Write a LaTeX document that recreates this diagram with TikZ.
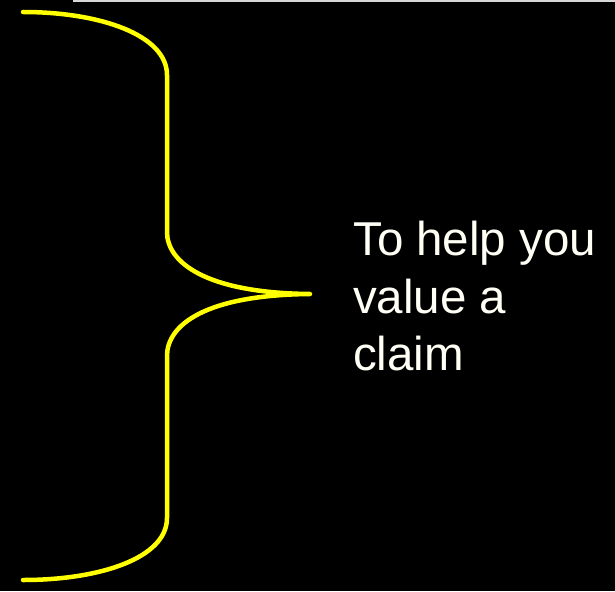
\documentclass[tikz,border=0pt]{standalone}
\usepackage{fontspec}
\setmainfont{Liberation Sans}
\definecolor{braceyellow}{RGB}{255,255,0}
\definecolor{textwhite}{RGB}{255,255,245}
\definecolor{edgegray}{RGB}{215,215,215}
\begin{document}
\begin{tikzpicture}[x=1pt,y=-1pt,
  brace/.style={draw=braceyellow,line width=4.5pt,line cap=round,line join=round},
  label/.style={text=textwhite,font=\fontsize{47.5}{57.5}\selectfont,align=left,inner sep=0pt,anchor=north west}]
  \fill[black] (0,0) rectangle (615,591);
  \useasboundingbox (0,0) rectangle (615,591);
  \coordinate (edgeL) at (73,1);
  \coordinate (edgeR) at (615,1);
  \draw[edgegray,line width=1.5pt] (edgeL) -- (edgeR);
  \coordinate (top) at (23,12);
  \coordinate (bot) at (23,580);
  \coordinate (tip) at (310,294);
  \draw[brace] (top) .. controls (100,12) and (167,35) .. (167,75)
     -- (167,232) .. controls (167,262) and (205,293) .. (tip)
     .. controls (205,295) and (167,325) .. (167,356)
     -- (167,518) .. controls (167,558) and (100,580) .. (bot);
  \node[label] (txt) at (353,221) {To help you\\value a\\claim};
\end{tikzpicture}
\end{document}
